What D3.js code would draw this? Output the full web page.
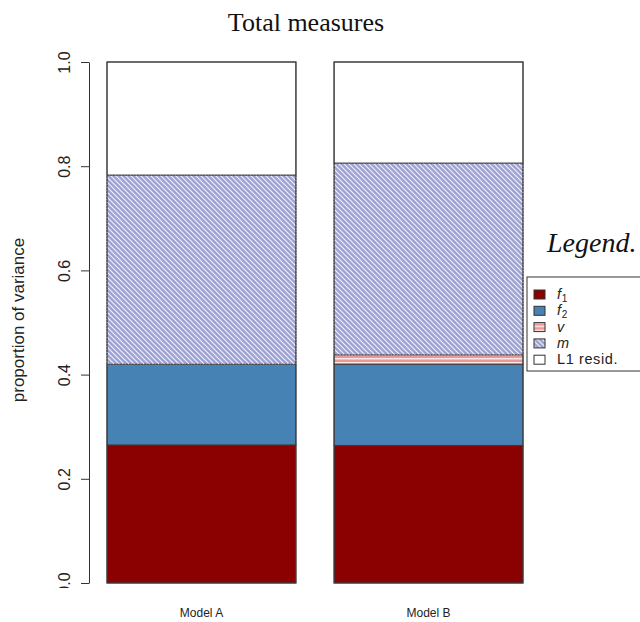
<!DOCTYPE html>
<html>
<head>
<meta charset="utf-8">
<script src="https://cdn.jsdelivr.net/npm/d3@7"></script>
<style>
  body { margin: 0; background: #fff; }
  svg { display: block; }
</style>
</head>
<body>
<svg id="chart" width="640" height="622"></svg>
<script>
// stacked proportions per model, bottom to top
const models = ["Model A", "Model B"]
const f1 = [0.265, 0.264]
const f2 = [0.155, 0.156]
const v = [0.0, 0.018]
const m = [0.363, 0.368]
const resid = [0.217, 0.194]
const yTicks = [0, 0.2, 0.4, 0.6, 0.8, 1.0]
const legendKeys = ["f1", "f2", "v", "m", "resid"]

const layout = {"width": 640, "height": 622,
                "left": 107, "right": 523, "top": 62, "bottom": 583}

const svg = d3.select("#chart")
const defs = svg.append("defs")

// hatch for m: lavender with white diagonal stripes
const hatch = defs.append("pattern")
  .attr("id", "hatchM")
  .attr("patternUnits", "userSpaceOnUse")
  .attr("width", 5).attr("height", 5)
hatch.append("rect").attr("width", 5).attr("height", 5).attr("fill", "#9ea2d2")
hatch.append("path")
  .attr("d", "M-1,-1 L6,6 M-1,4 L1,6 M4,-1 L6,1")
  .attr("stroke", "#f2f2fa").attr("stroke-width", 1.1)

// stripes for v: pink with white horizontal lines
const stripe = defs.append("pattern")
  .attr("id", "stripeV")
  .attr("patternUnits", "userSpaceOnUse")
  .attr("width", 4).attr("height", 4)
stripe.append("rect").attr("width", 4).attr("height", 4).attr("fill", "#e89a9a")
stripe.append("rect").attr("y", 2).attr("width", 4).attr("height", 1.5).attr("fill", "#fbe6e6")

// clip so the bottom tick label shows cut off, as in the source
defs.append("clipPath").attr("id", "tickClipAxis")
  .append("rect").attr("x", -100).attr("y", 0).attr("width", 200).attr("height", 588)

const fills = {"f1": "#8b0000", "f2": "#4682b4", "v": "url(#stripeV)",
               "m": "url(#hatchM)", "resid": "#ffffff"}
const labels = {"f1": ["f", "1"], "f2": ["f", "2"], "v": ["v", ""],
                "m": ["m", ""], "resid": ["L1 resid.", ""]}

const rows = models.map((name, i) => ({name, f1: f1[i], f2: f2[i], v: v[i], m: m[i], resid: resid[i]}))

const xScale = d3.scaleBand()
  .domain(models)
  .range([layout.left, layout.right])
  .paddingInner(0.168)

const yScale = d3.scaleLinear()
  .domain([0, 1])
  .range([layout.bottom, layout.top])

const series = d3.stack().keys(legendKeys)(rows)

const layers = svg.append("g").selectAll("g")
  .data(series)
  .join("g")

layers.selectAll("rect")
  .data(d => d.map(p => ({key: d.key, p, name: p.data.name})))
  .join("rect")
  .filter(d => d.p[1] - d.p[0] > 0)
  .attr("x", d => xScale(d.name))
  .attr("width", xScale.bandwidth())
  .attr("y", d => yScale(d.p[1]))
  .attr("height", d => yScale(d.p[0]) - yScale(d.p[1]))
  .attr("fill", d => fills[d.key])
  .attr("stroke", d => d.key === "m" ? "none" : "#3a3a3a")
  .attr("stroke-width", 1)

// m border drawn dotted like the original
layers.filter(d => d.key === "m").selectAll("rect.mb")
  .data(d => d.map(p => ({p, name: p.data.name})))
  .join("rect")
  .attr("class", "mb")
  .attr("x", d => xScale(d.name))
  .attr("width", xScale.bandwidth())
  .attr("y", d => yScale(d.p[1]))
  .attr("height", d => yScale(d.p[0]) - yScale(d.p[1]))
  .attr("fill", "none")
  .attr("stroke", "#444")
  .attr("stroke-dasharray", "2,1")

// outer outline of each bar
svg.append("g").selectAll("rect")
  .data(models)
  .join("rect")
  .attr("x", d => xScale(d))
  .attr("width", xScale.bandwidth())
  .attr("y", yScale(1))
  .attr("height", yScale(0) - yScale(1))
  .attr("fill", "none")
  .attr("stroke", "#3a3a3a")

// y axis
const yAxis = svg.append("g")
  .attr("transform", "translate(89,0)")
  .attr("clip-path", "url(#tickClipAxis)")
  .call(d3.axisLeft(yScale).tickValues(yTicks).tickFormat(d3.format(".1f")).tickSize(8).tickSizeOuter(0))
yAxis.select(".domain").attr("stroke", "#333")
yAxis.selectAll(".tick line").attr("stroke", "#333")
yAxis.selectAll(".tick text")
  .attr("transform", "rotate(-90)")
  .attr("x", 0)
  .attr("y", -19)
  .attr("dy", 0)
  .attr("text-anchor", "middle")
  .style("font-family", "Arial, 'Liberation Sans', sans-serif")
  .style("font-size", "16px")
  .attr("fill", "#222")

svg.append("text")
  .attr("transform", "translate(24,320) rotate(-90)")
  .attr("text-anchor", "middle")
  .style("font-family", "Arial, 'Liberation Sans', sans-serif")
  .style("font-size", "17px")
  .attr("fill", "#222")
  .text("proportion of variance")

// x labels
svg.append("g").selectAll("text")
  .data(models)
  .join("text")
  .attr("x", d => xScale(d) + xScale.bandwidth() / 2)
  .attr("y", 617)
  .attr("text-anchor", "middle")
  .style("font-family", "Arial, 'Liberation Sans', sans-serif")
  .style("font-size", "12px")
  .attr("fill", "#222")
  .text(d => d)

// title
svg.append("text")
  .attr("x", 306)
  .attr("y", 31)
  .attr("text-anchor", "middle")
  .style("font-family", "'Liberation Serif', 'Times New Roman', serif")
  .style("font-size", "26px")
  .attr("fill", "#111")
  .text("Total measures")

svg.append("text")
  .attr("x", 547)
  .attr("y", 252)
  .style("font-family", "'Liberation Serif', 'Times New Roman', serif")
  .style("font-style", "italic")
  .style("font-size", "28px")
  .attr("fill", "#111")
  .text("Legend.")

// legend box, runs off the right edge like the source
const legend = svg.append("g").attr("transform", "translate(527,277)")
legend.append("rect")
  .attr("width", 130).attr("height", 94)
  .attr("fill", "#fff").attr("stroke", "#333")

const item = legend.selectAll("g.item")
  .data(legendKeys)
  .join("g")
  .attr("class", "item")
  .attr("transform", (d, i) => `translate(0,${18 + i * 16.3})`)

item.append("rect")
  .attr("x", 7).attr("y", -5)
  .attr("width", 11).attr("height", 9)
  .attr("fill", d => fills[d])
  .attr("stroke", "#333")

const itxt = item.append("text")
  .attr("x", 30).attr("y", 4)
  .style("font-family", "Arial, 'Liberation Sans', sans-serif")
  .style("font-size", "14.5px")
  .style("letter-spacing", "0.6px")
  .attr("fill", "#222")
itxt.append("tspan")
  .style("font-style", d => d === "resid" ? "normal" : "italic")
  .text(d => labels[d][0])
itxt.append("tspan")
  .attr("dy", 3)
  .style("font-size", "10px")
  .text(d => labels[d][1])
</script>
</body>
</html>
